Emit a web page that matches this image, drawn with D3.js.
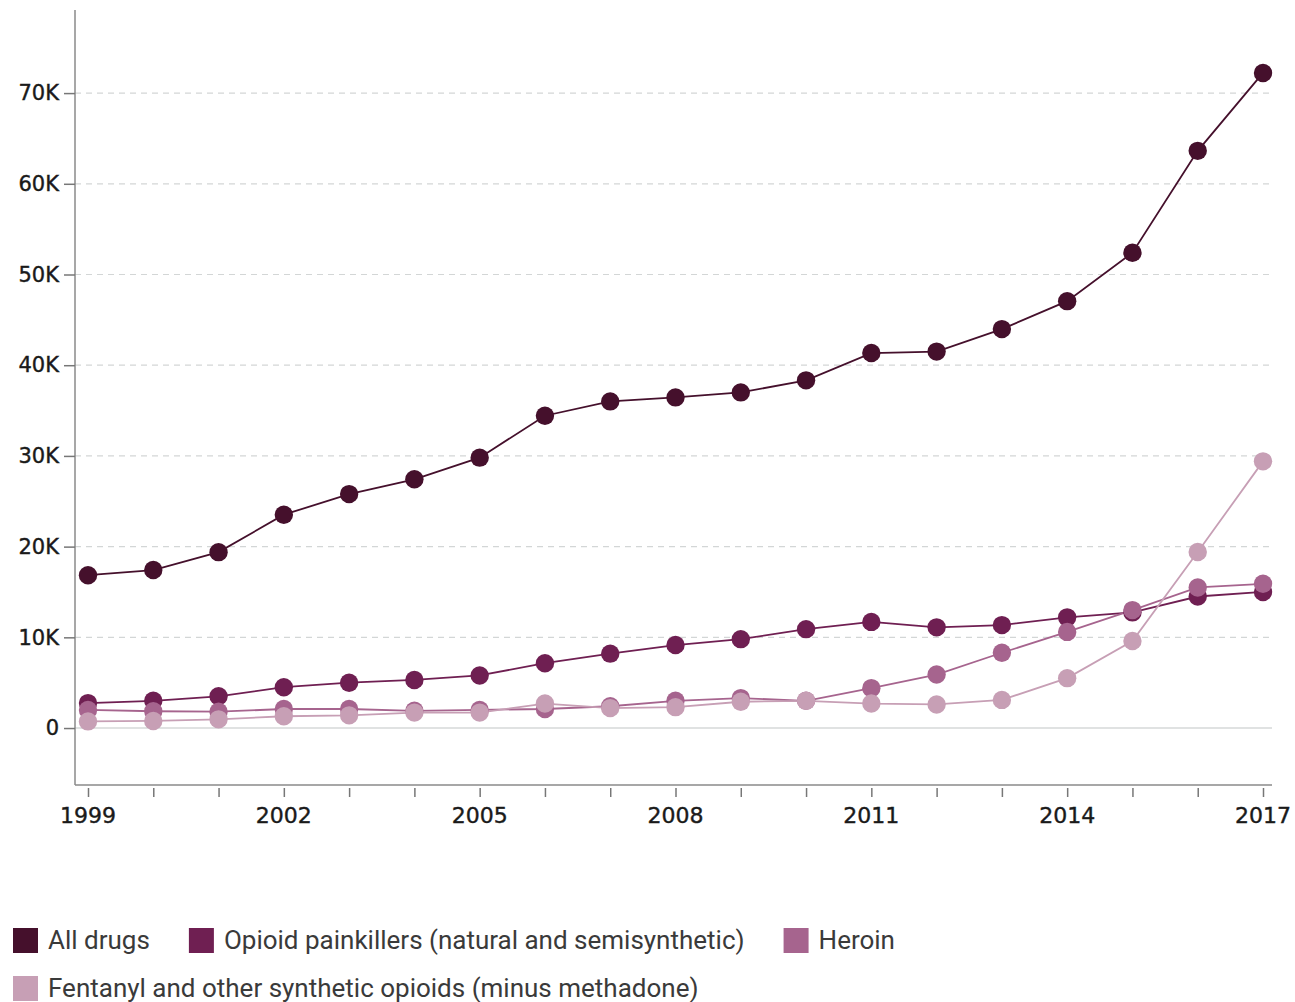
<!DOCTYPE html>
<html>
<head>
<meta charset="utf-8">
<script src="https://cdn.jsdelivr.net/npm/d3@7"></script>
<style>
  body { margin: 0; background: #fff; }
  #chart text { font-family: "DejaVu Sans", sans-serif; }
</style>
</head>
<body>
<div id="chart"></div>
<script>
// data (deaths per year)
const years = [1999, 2000, 2001, 2002, 2003, 2004, 2005, 2006, 2007, 2008,
               2009, 2010, 2011, 2012, 2013, 2014, 2015, 2016, 2017];
const allDrugs = [16850, 17420, 19390, 23520, 25790, 27420, 29810, 34430, 36010, 36450,
                  37000, 38330, 41340, 41500, 43980, 47060, 52400, 63630, 72220];
const painkillers = [2750, 3000, 3500, 4500, 5000, 5300, 5800, 7150, 8200, 9150,
                     9800, 10900, 11700, 11100, 11350, 12200, 12750, 14500, 15000];
const heroin = [2000, 1850, 1800, 2100, 2100, 1900, 2000, 2100, 2400, 3000,
                3300, 3000, 4400, 5900, 8300, 10600, 13000, 15500, 15900];
const fentanyl = [730, 780, 960, 1300, 1400, 1700, 1700, 2700, 2200, 2300,
                  2900, 3000, 2700, 2600, 3100, 5500, 9600, 19400, 29400];

const seriesNames = ["All drugs", "Opioid painkillers (natural and semisynthetic)", "Heroin",
                     "Fentanyl and other synthetic opioids (minus methadone)"];
const seriesValues = [allDrugs, painkillers, heroin, fentanyl];
const colors = ["#45102c", "#6f1f52", "#a6648e", "#c79fb5"];

const xTicks = [1999, 2002, 2005, 2008, 2011, 2014, 2017];
const yTicks = [0, 10000, 20000, 30000, 40000, 50000, 60000, 70000];

const width = 1295, height = 1002;
const margin = {left: 75, right: 23, top: 10};
const plotBottom = 785;

const svg = d3.select("#chart").append("svg")
    .attr("width", width)
    .attr("height", height);

const x = d3.scaleLinear()
    .domain([1999, 2017])
    .range([88, 1263]);

const y = d3.scaleLinear()
    .domain([-6280, 79160])
    .range([plotBottom, margin.top]);

// grid lines
svg.append("g")
    .selectAll("line")
    .data(yTicks)
    .join("line")
    .attr("x1", margin.left)
    .attr("x2", width - margin.right)
    .attr("y1", d => y(d))
    .attr("y2", d => y(d))
    .attr("stroke", d => d === 0 ? "#d6d9d9" : "#d3d6d6")
    .attr("stroke-width", d => d === 0 ? 1.5 : 1.2)
    .attr("stroke-dasharray", d => d === 0 ? null : "6,5");

// y axis
const yAxis = svg.append("g")
    .attr("transform", `translate(${margin.left},0)`)
    .call(d3.axisLeft(y).tickValues(yTicks).tickSize(11).tickPadding(5)
        .tickFormat(d => d === 0 ? "0" : (d / 1000) + "K"));
yAxis.select(".domain").attr("stroke", "#8a8a8a").attr("stroke-width", 1.5)
    .attr("d", `M0,${margin.top}V${plotBottom}`);
yAxis.selectAll(".tick line").attr("stroke", "#777").attr("stroke-width", 1.5);
yAxis.selectAll(".tick text")
    .style("font-size", "21px")
    .style("fill", "#1a1a1a")
    .style("stroke", "#1a1a1a")
    .style("stroke-width", 0.4);

// x axis
const xAxis = svg.append("g")
    .attr("transform", `translate(0,${plotBottom})`)
    .call(d3.axisBottom(x).tickValues(years).tickSize(0).tickFormat(""));
xAxis.select(".domain").attr("stroke", "#8a8a8a").attr("stroke-width", 1.5)
    .attr("d", `M${margin.left},0H${width - margin.right}`);
xAxis.selectAll(".tick line")
    .attr("y1", 3).attr("y2", 12)
    .attr("stroke", "#777").attr("stroke-width", 1.5);

svg.append("g")
    .selectAll("text")
    .data(xTicks)
    .join("text")
    .attr("x", d => x(d))
    .attr("y", 823)
    .attr("text-anchor", "middle")
    .style("font-size", "22px")
    .style("fill", "#1a1a1a")
    .style("stroke", "#1a1a1a")
    .style("stroke-width", 0.4)
    .text(d => d);

// lines and points
const line = d3.line()
    .x((d, i) => x(years[i]))
    .y(d => y(d));

seriesValues.forEach((vals, k) => {
    svg.append("path")
        .datum(vals)
        .attr("d", line)
        .attr("fill", "none")
        .attr("stroke", colors[k])
        .attr("stroke-width", 1.8);
});
seriesValues.forEach((vals, k) => {
    svg.append("g")
        .selectAll("circle")
        .data(vals)
        .join("circle")
        .attr("cx", (d, i) => x(years[i]))
        .attr("cy", d => y(d))
        .attr("r", 9.2)
        .attr("fill", colors[k]);
});

// legend, flowing left to right and wrapping
const legend = svg.append("g").attr("class", "legend");
let lx = 13, ly = 928;
seriesNames.forEach((name, k) => {
    const item = legend.append("g");
    item.append("rect")
        .attr("width", 25).attr("height", 25)
        .attr("fill", colors[k]);
    const t = item.append("text")
        .attr("x", 35).attr("y", 21)
        .style("font-family", "'Roboto', sans-serif")
        .style("font-size", "26px")
        .style("fill", "#3a3a3a")
        .text(name);
    const w = 35 + t.node().getComputedTextLength();
    if (lx + w > 960) { lx = 13; ly += 48; }
    item.attr("transform", `translate(${lx},${ly})`);
    lx += w + 39;
});
</script>
</body>
</html>
